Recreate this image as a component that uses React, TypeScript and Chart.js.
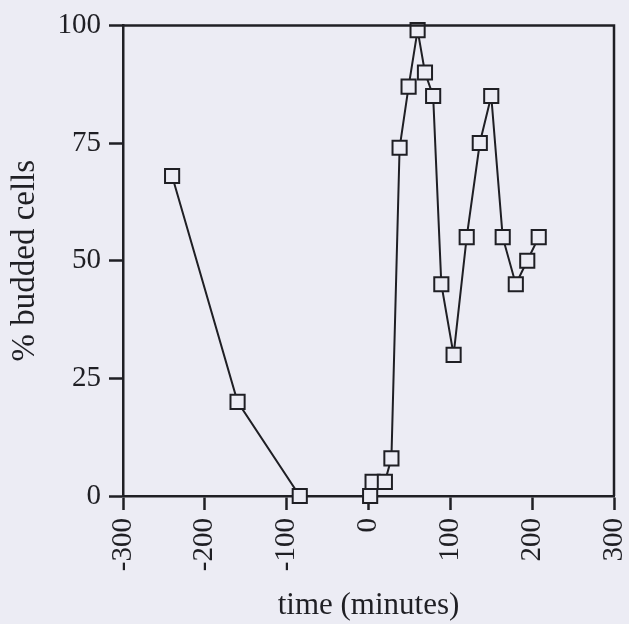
import React, { useEffect, useRef } from 'react';
import { Chart, registerables } from 'chart.js';

Chart.register(...registerables);

const timeMinutes = [-240, -160, -84, 2, 5, 20, 28, 38, 49, 60, 69, 79, 89, 104, 120, 136, 150, 164, 180, 194, 208];
const buddedPercent = [68, 20, 0, 0, 3, 3, 8, 74, 87, 99, 90, 85, 45, 30, 55, 75, 85, 55, 45, 50, 55];
const xTickValues = [-300, -200, -100, 0, 100, 200, 300];
const yTickValues = [0, 25, 50, 75, 100];

const xTitle = 'time (minutes)';
const yTitle = '% budded cells';

const BG = '#ECECF4';
const INK = '#1f1f24';
const FONT = "'Liberation Serif', 'Times New Roman', serif";

const framePlugin = {
  id: 'frame',
  afterDraw(chart: any) {
    const { ctx, chartArea } = chart;
    ctx.save();
    ctx.strokeStyle = INK;
    ctx.lineWidth = 2.5;
    ctx.beginPath();
    ctx.moveTo(chartArea.left, chartArea.top);
    ctx.lineTo(chartArea.right, chartArea.top);
    ctx.lineTo(chartArea.right, chartArea.bottom);
    ctx.stroke();
    ctx.restore();
  },
};

const bgPlugin = {
  id: 'bg',
  beforeDraw(chart: any) {
    const { ctx, width, height } = chart;
    ctx.save();
    ctx.fillStyle = BG;
    ctx.fillRect(0, 0, width, height);
    ctx.restore();
  },
};

export default function App() {
  const ref = useRef<HTMLCanvasElement | null>(null);

  useEffect(() => {
    document.body.style.margin = '0';
    document.body.style.background = BG;
    const canvas = ref.current;
    if (!canvas) return;
    const chart = new Chart(canvas, {
      type: 'line',
      data: {
        datasets: [
          {
            data: timeMinutes.map((t, i) => ({ x: t, y: buddedPercent[i] })),
            borderColor: INK,
            borderWidth: 2,
            tension: 0,
            pointStyle: 'rect',
            pointRadius: 10,
            pointHoverRadius: 10,
            pointBorderWidth: 2,
            pointBorderColor: INK,
            pointBackgroundColor: BG,
            clip: false,
          } as any,
        ],
      },
      options: {
        animation: false,
        responsive: false,
        maintainAspectRatio: false,
        events: [],
        layout: { padding: { top: 21, right: 15, bottom: 0, left: 0 } },
        plugins: {
          legend: { display: false },
          tooltip: { enabled: false },
        },
        scales: {
          x: {
            type: 'linear',
            min: -300,
            max: 300,
            afterBuildTicks: (scale: any) => {
              scale.ticks = xTickValues.map((v) => ({ value: v }));
            },
            afterFit: (scale: any) => {
              scale.height = 128;
              scale.paddingLeft = 0;
              scale.paddingRight = 0;
            },
            ticks: {
              minRotation: 90,
              maxRotation: 90,
              padding: 8,
              color: INK,
              font: { family: FONT, size: 29 },
            },
            grid: {
              drawOnChartArea: false,
              drawTicks: true,
              tickLength: 14,
              tickWidth: 2.5,
              tickColor: INK,
            },
            border: { display: true, color: INK, width: 2.5 },
            title: {
              display: true,
              text: xTitle,
              color: INK,
              font: { family: FONT, size: 31 },
              padding: { top: 0, bottom: 0 },
            },
          },
          y: {
            type: 'linear',
            min: 0,
            max: 100,
            afterBuildTicks: (scale: any) => {
              scale.ticks = yTickValues.map((v) => ({ value: v }));
            },
            afterFit: (scale: any) => {
              scale.width = 123;
            },
            ticks: {
              padding: 8,
              color: INK,
              font: { family: FONT, size: 29 },
            },
            grid: {
              drawOnChartArea: false,
              drawTicks: true,
              tickLength: 14,
              tickWidth: 2.5,
              tickColor: INK,
            },
            border: { display: true, color: INK, width: 2.5 },
            title: {
              display: true,
              text: yTitle,
              color: INK,
              font: { family: FONT, size: 33 },
              padding: { top: 6, bottom: 0 },
            },
          },
        },
      },
      plugins: [bgPlugin, framePlugin],
    });
    return () => chart.destroy();
  }, []);

  return (
    <div style={{ width: 629, height: 624 }}>
      <canvas ref={ref} width={629} height={624} style={{ display: 'block', width: 629, height: 624 }} />
    </div>
  );
}
